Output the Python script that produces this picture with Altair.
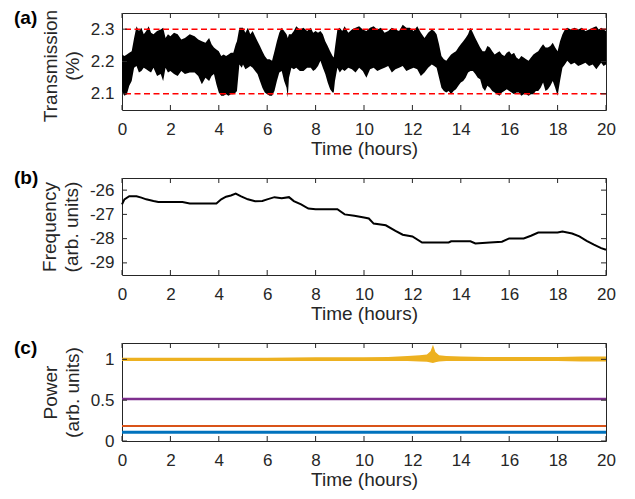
import altair as alt
import pandas as pd

FONT = "Liberation Sans, Arial, Helvetica, sans-serif"
AX = "#262626"
W = 484
H_A, H_B, H_C = 97, 97, 98
TICK = 5

# ---------------- data ----------------
x_ticks = [0, 2, 4, 6, 8, 10, 12, 14, 16, 18, 20]

# (a) transmission: upper / lower envelope of the dense trace
t_a = [0.0, 0.1, 0.2, 0.3, 0.4, 0.5, 0.6, 0.7, 0.8, 0.9,
       1.0, 1.1, 1.2, 1.3, 1.45, 1.6, 1.7, 1.8, 1.9, 2.0,
       2.15, 2.3, 2.45, 2.6, 2.8, 3.0, 3.15, 3.3, 3.45, 3.6,
       3.7, 3.8, 3.9, 4.0, 4.1, 4.2, 4.3, 4.4, 4.5, 4.6,
       4.7, 4.75, 4.85, 4.95, 5.0, 5.1, 5.2, 5.3, 5.4, 5.5,
       5.6, 5.7, 5.8, 5.9, 6.0, 6.1, 6.2, 6.3, 6.4, 6.5,
       6.6, 6.7, 6.8, 6.85, 6.9, 7.0, 7.1, 7.2, 7.35, 7.5,
       7.65, 7.8, 7.9, 8.0, 8.1, 8.2, 8.3, 8.4, 8.5, 8.6,
       8.7, 8.75, 8.8, 8.9, 9.0, 9.1, 9.2, 9.35, 9.5, 9.65,
       9.8, 9.95, 10.1, 10.25, 10.4, 10.55, 10.7, 10.85, 11.0, 11.15,
       11.3, 11.45, 11.6, 11.75, 11.9, 12.05, 12.2, 12.35, 12.5, 12.65,
       12.8, 12.9, 13.0, 13.1, 13.2, 13.3, 13.4, 13.5, 13.6, 13.7,
       13.8, 13.9, 14.0, 14.1, 14.2, 14.3, 14.4, 14.5, 14.6, 14.7,
       14.8, 14.9, 15.0, 15.1, 15.2, 15.3, 15.4, 15.5, 15.6, 15.7,
       15.8, 15.9, 16.0, 16.1, 16.2, 16.3, 16.4, 16.5, 16.6, 16.7,
       16.8, 16.9, 17.0, 17.1, 17.2, 17.3, 17.4, 17.5, 17.6, 17.7,
       17.8, 17.9, 18.0, 18.1, 18.2, 18.3, 18.4, 18.55, 18.7, 18.85,
       19.0, 19.15, 19.3, 19.45, 19.6, 19.7, 19.8, 19.9, 20.0]
a_hi = [2.222, 2.217, 2.222, 2.227, 2.232, 2.273, 2.309, 2.294, 2.304, 2.284,
        2.294, 2.309, 2.289, 2.284, 2.294, 2.299, 2.304, 2.273, 2.284, 2.278,
        2.289, 2.284, 2.268, 2.273, 2.284, 2.278, 2.268, 2.263, 2.258, 2.273,
        2.253, 2.243, 2.237, 2.232, 2.217, 2.222, 2.217, 2.222, 2.227, 2.227,
        2.253, 2.263, 2.304, 2.304, 2.304, 2.289, 2.304, 2.284, 2.294, 2.278,
        2.263, 2.248, 2.232, 2.217, 2.207, 2.207, 2.202, 2.232, 2.263, 2.289,
        2.304, 2.294, 2.284, 2.273, 2.284, 2.284, 2.294, 2.309, 2.299, 2.304,
        2.294, 2.304, 2.289, 2.294, 2.289, 2.294, 2.284, 2.263, 2.248, 2.232,
        2.217, 2.212, 2.243, 2.299, 2.304, 2.294, 2.309, 2.289, 2.299, 2.304,
        2.309, 2.299, 2.294, 2.304, 2.309, 2.299, 2.304, 2.289, 2.294, 2.304,
        2.299, 2.294, 2.314, 2.304, 2.304, 2.294, 2.309, 2.289, 2.273, 2.289,
        2.299, 2.294, 2.284, 2.253, 2.217, 2.207, 2.202, 2.212, 2.222, 2.227,
        2.232, 2.243, 2.253, 2.263, 2.273, 2.284, 2.304, 2.289, 2.273, 2.258,
        2.243, 2.232, 2.232, 2.248, 2.243, 2.232, 2.222, 2.227, 2.232, 2.222,
        2.217, 2.227, 2.232, 2.222, 2.227, 2.212, 2.207, 2.217, 2.212, 2.207,
        2.202, 2.212, 2.222, 2.227, 2.232, 2.243, 2.253, 2.243, 2.243, 2.248,
        2.258, 2.243, 2.232, 2.263, 2.284, 2.299, 2.304, 2.299, 2.304, 2.299,
        2.304, 2.294, 2.299, 2.304, 2.309, 2.299, 2.304, 2.299, 2.294]
a_lo = [2.109, 2.094, 2.099, 2.125, 2.140, 2.181, 2.186, 2.166, 2.171, 2.181,
        2.176, 2.171, 2.166, 2.181, 2.155, 2.161, 2.140, 2.181, 2.166, 2.171,
        2.161, 2.155, 2.171, 2.161, 2.166, 2.166, 2.155, 2.130, 2.150, 2.140,
        2.155, 2.161, 2.130, 2.104, 2.094, 2.094, 2.099, 2.094, 2.099, 2.099,
        2.104, 2.109, 2.191, 2.181, 2.191, 2.176, 2.181, 2.186, 2.181, 2.171,
        2.161, 2.140, 2.119, 2.104, 2.099, 2.094, 2.094, 2.109, 2.140, 2.166,
        2.171, 2.140, 2.119, 2.089, 2.150, 2.181, 2.176, 2.181, 2.171, 2.171,
        2.181, 2.181, 2.171, 2.176, 2.186, 2.202, 2.181, 2.161, 2.135, 2.114,
        2.104, 2.104, 2.140, 2.181, 2.166, 2.176, 2.171, 2.181, 2.176, 2.166,
        2.181, 2.171, 2.150, 2.176, 2.181, 2.171, 2.176, 2.181, 2.186, 2.166,
        2.176, 2.181, 2.186, 2.171, 2.176, 2.181, 2.176, 2.155, 2.166, 2.181,
        2.191, 2.186, 2.181, 2.150, 2.119, 2.109, 2.104, 2.109, 2.099, 2.109,
        2.114, 2.125, 2.135, 2.140, 2.150, 2.166, 2.171, 2.171, 2.161, 2.150,
        2.145, 2.119, 2.109, 2.125, 2.119, 2.109, 2.104, 2.099, 2.094, 2.104,
        2.109, 2.114, 2.109, 2.104, 2.099, 2.104, 2.104, 2.094, 2.099, 2.099,
        2.094, 2.099, 2.099, 2.109, 2.109, 2.119, 2.135, 2.109, 2.114, 2.125,
        2.140, 2.119, 2.094, 2.140, 2.181, 2.191, 2.202, 2.191, 2.196, 2.186,
        2.191, 2.196, 2.186, 2.191, 2.176, 2.186, 2.196, 2.186, 2.191]
a_limits = [2.1, 2.3]
a_yticks = [2.1, 2.2, 2.3]

# (b) frequency
t_b = [0.0, 0.1, 0.3, 0.6, 0.8, 1.0, 1.3, 1.5, 2.5, 2.8,
       3.9, 4.1, 4.3, 4.5, 4.7, 4.9, 5.2, 5.5, 5.8, 6.0,
       6.3, 6.6, 6.9, 7.1, 7.4, 7.7, 8.0, 8.9, 9.2, 9.6,
       10.0, 10.2, 10.4, 10.9, 11.3, 11.6, 12.0, 12.4, 13.5, 13.6,
       14.4, 14.6, 15.2, 15.7, 16.0, 16.6, 16.9, 17.2, 18.0, 18.2,
       18.6, 18.9, 19.2, 19.5, 19.8, 20.0]
freq = [-26.59, -26.38, -26.25, -26.25, -26.31, -26.38, -26.45, -26.49, -26.49, -26.55,
        -26.55, -26.38, -26.27, -26.22, -26.14, -26.25, -26.38, -26.46, -26.45, -26.38,
        -26.29, -26.33, -26.29, -26.45, -26.59, -26.76, -26.79, -26.79, -27.00, -27.06,
        -27.13, -27.17, -27.38, -27.45, -27.68, -27.84, -27.91, -28.16, -28.16, -28.11,
        -28.11, -28.20, -28.16, -28.13, -27.99, -27.99, -27.88, -27.75, -27.75, -27.71,
        -27.79, -27.91, -28.09, -28.25, -28.39, -28.46]
b_yticks = [-29, -28, -27, -26]

# (c) power
t_y = [0, 2, 4, 6, 8, 10, 11, 11.8, 12.3, 12.6,
       12.75, 12.85, 12.95, 13.1, 13.4, 14, 15, 16, 17, 18,
       19, 20]
yellow_hi = [1.02, 1.02, 1.02, 1.02, 1.025, 1.025, 1.03, 1.04, 1.05, 1.06,
             1.10, 1.18, 1.09, 1.05, 1.04, 1.035, 1.03, 1.03, 1.03, 1.03,
             1.035, 1.035]
yellow_lo = [0.98, 0.98, 0.98, 0.98, 0.98, 0.98, 0.98, 0.98, 0.975, 0.97,
             0.96, 0.955, 0.965, 0.975, 0.98, 0.98, 0.98, 0.98, 0.98, 0.98,
             0.975, 0.975]
t_flat = [0, 20]
purple = [0.515, 0.515]
orange = [0.185, 0.185]
blue = [0.108, 0.108]
c_yticks = [0, 0.5, 1]

# ---------------- helpers ----------------
xs = alt.Scale(domain=[0, 20], nice=False, zero=False)
XA = alt.Axis(values=x_ticks, title="Time (hours)", grid=False, domain=False,
              ticks=False, labelFontSize=17, labelPadding=11,
              labelColor=AX, labelFlush=False, labelOverlap=False,
              titleFontSize=19, titleFontWeight="normal", titleColor=AX,
              titlePadding=2)


def y_axis(title, vals, fmt=None, expr=None, title_y=None):
    kw = dict(values=vals, title=title, grid=False, domain=False, ticks=False,
              labelFontSize=17, labelPadding=8, labelColor=AX,
              labelOverlap=False, labelFlush=False,
              titleFontSize=19, titleFontWeight="normal", titleColor=AX,
              titleLineHeight=22, titlePadding=8)
    if fmt:
        kw["format"] = fmt
    if expr:
        kw["labelExpr"] = expr
    if title_y is not None:
        kw["titleY"] = title_y
    return alt.Axis(**kw)


def inner_ticks(yvals, ys, ya, h):
    xt = pd.DataFrame({"t": x_ticks})
    yt = pd.DataFrame({"v": yvals})
    xe = alt.X("t:Q", scale=xs, axis=XA)
    ye = alt.Y("v:Q", scale=ys, axis=ya)
    bottom = alt.Chart(xt).mark_rule(color=AX, strokeWidth=1).encode(
        x=xe, y=alt.value(h), y2=alt.value(h - TICK))
    top = alt.Chart(xt).mark_rule(color=AX, strokeWidth=1).encode(
        x=xe, y=alt.value(0), y2=alt.value(TICK))
    left = alt.Chart(yt).mark_rule(color=AX, strokeWidth=1).encode(
        y=ye, x=alt.value(0), x2=alt.value(TICK))
    right = alt.Chart(yt).mark_rule(color=AX, strokeWidth=1).encode(
        y=ye, x=alt.value(W), x2=alt.value(W - TICK))
    return [bottom, top, left, right]


def panel_label(txt, dy):
    return alt.Chart(pd.DataFrame({"l": [txt]})).mark_text(
        align="left", baseline="top", fontSize=19, fontWeight="bold",
        font=FONT, color="black").encode(
        x=alt.value(-108), y=alt.value(dy), text="l:N")


# ---------------- panel (a) ----------------
ys_a = alt.Scale(domain=[2.05, 2.35], nice=False, zero=False)
ya_a = y_axis(["Transmission", "(%)"], a_yticks, fmt=".1f", title_y=H_A / 2 + 4)
df_a = pd.DataFrame({"t": t_a, "v": a_lo, "hi": a_hi})
band_a = alt.Chart(df_a).mark_area(color="black", opacity=1).encode(
    x=alt.X("t:Q", scale=xs, axis=XA),
    y=alt.Y("v:Q", scale=ys_a, axis=ya_a),
    y2="hi:Q")
lim_a = alt.Chart(pd.DataFrame({"v": a_limits})).mark_rule(
    color="#ff0000", strokeDash=[6, 3.5], strokeWidth=1.5).encode(
    y=alt.Y("v:Q", scale=ys_a, axis=ya_a))
chart_a = alt.layer(band_a, lim_a, *inner_ticks(a_yticks, ys_a, ya_a, H_A),
                    panel_label("(a)", -4)).properties(width=W, height=H_A)

# ---------------- panel (b) ----------------
ys_b = alt.Scale(domain=[-29.5, -25.5], nice=False, zero=False)
ya_b = y_axis(["Frequency", "(arb. units)"], b_yticks,
              expr="datum.value < 0 ? '-' + abs(datum.value) : '' + datum.value")
df_b = pd.DataFrame({"t": t_b, "v": freq})
line_b = alt.Chart(df_b).mark_line(color="black", strokeWidth=2).encode(
    x=alt.X("t:Q", scale=xs, axis=XA),
    y=alt.Y("v:Q", scale=ys_b, axis=ya_b))
chart_b = alt.layer(line_b, *inner_ticks(b_yticks, ys_b, ya_b, H_B),
                    panel_label("(b)", -9)).properties(width=W, height=H_B)

# ---------------- panel (c) ----------------
ys_c = alt.Scale(domain=[0, 1.2], nice=False, zero=False)
ya_c = y_axis(["Power", "(arb. units)"], c_yticks, fmt="~g")
df_y = pd.DataFrame({"t": t_y, "v": yellow_lo, "hi": yellow_hi})
df_blue = pd.DataFrame({"t": t_flat, "v": blue})
df_orange = pd.DataFrame({"t": t_flat, "v": orange})
df_purple = pd.DataFrame({"t": t_flat, "v": purple})


def flat_line(df, color, sw):
    return alt.Chart(df).mark_line(color=color, strokeWidth=sw).encode(
        x=alt.X("t:Q", scale=xs, axis=XA), y=alt.Y("v:Q", scale=ys_c, axis=ya_c))


yellow_c = alt.Chart(df_y).mark_area(color="#EDB120", opacity=1).encode(
    x=alt.X("t:Q", scale=xs, axis=XA), y=alt.Y("v:Q", scale=ys_c, axis=ya_c), y2="hi:Q")
chart_c = alt.layer(flat_line(df_blue, "#0072BD", 3), flat_line(df_orange, "#D95319", 2),
                    yellow_c, flat_line(df_purple, "#7E2F8E", 2.5),
                    *inner_ticks(c_yticks, ys_c, ya_c, H_C),
                    panel_label("(c)", -4)).properties(width=W, height=H_C)

chart = alt.vconcat(chart_a, chart_b, chart_c, spacing=68, bounds="flush").configure(
    font=FONT, padding={"left": 5, "top": 0, "right": 5, "bottom": 0}).configure_axis(
    titleFontWeight="normal", labelFontWeight="normal").configure_view(
    stroke=AX, strokeWidth=1)

chart.save("out.html", embed_options={"renderer": "svg", "actions": False})
